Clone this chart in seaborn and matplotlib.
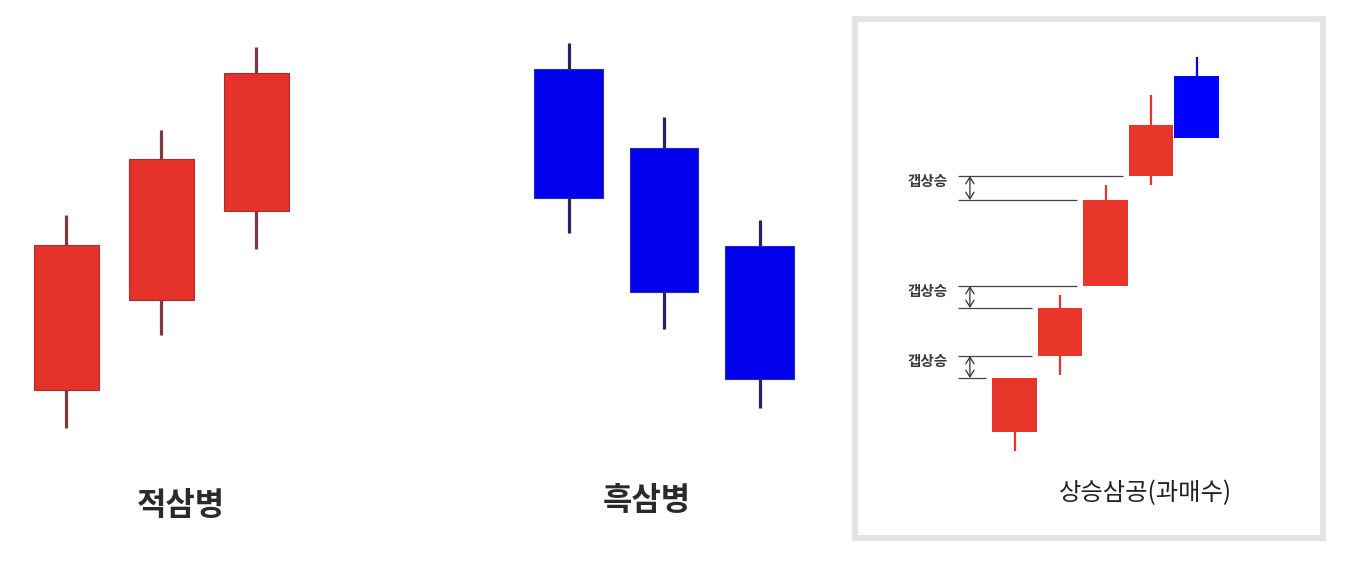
import numpy as np
import matplotlib
matplotlib.use('Agg')
import matplotlib.pyplot as plt
import seaborn as sns

sns.set_theme(style="white")
plt.rcParams['font.family'] = ['Noto Sans CJK KR', 'DejaVu Sans']

# --- data (price units) ---
# 적삼병: three rising red candles
red3_open = [172, 262, 351]
red3_close = [317, 403, 489]
red3_high = [347, 432, 515]
red3_low = [134, 227, 313]

# 흑삼병: three falling blue candles
blue3_open = [493, 414, 316]
blue3_close = [364, 270, 183]
blue3_high = [519, 445, 342]
blue3_low = [329, 233, 154]

# 상승삼공: four gap-up red candles + one blue
gap_open = [130, 206, 276, 386, 486]
gap_close = [184, 254, 362, 437, 424]
gap_high = [184, 267, 377, 467, 505]
gap_low = [111, 187, 276, 377, 424]
gap_colors = ['#e8362a', '#e8362a', '#e8362a', '#e8362a', '#0000ff']

labels = ['적삼병', '흑삼병', '상승삼공(과매수)']
gap_label = '갭상승'

W, H = 1354, 562
fig = plt.figure(figsize=(W / 100, H / 100), dpi=100)
fig.patch.set_facecolor('white')


def make_axes(x0, x1, y0, y1, center0, spacing):
    ax = fig.add_axes([x0 / W, 1 - y1 / H, (x1 - x0) / W, (y1 - y0) / H])
    ax.set_xlim((x0 - center0) / spacing, (x1 - center0) / spacing)
    ax.set_ylim(H - y1, H - y0)
    ax.set_xticks([])
    ax.set_yticks([])
    ax.set_facecolor('none')
    return ax


def candles(ax, o, c, hi, lo, body, edge, wick, width, wick_lw, edge_lw):
    x = np.arange(len(o))
    o = np.array(o)
    c = np.array(c)
    ax.vlines(x, lo, hi, color=wick, lw=wick_lw, zorder=1)
    ax.bar(x, np.abs(c - o), bottom=np.minimum(o, c), width=width,
           color=body, edgecolor=edge, linewidth=edge_lw, zorder=2)
    return x


# left panel
ax1 = make_axes(0, 330, 0, H, 66.5, 95)
candles(ax1, red3_open, red3_close, red3_high, red3_low,
        '#e5322a', '#a23030', '#7a3a3e', 0.69, 2.3, 0.8)
ax1.text(1.2, 56, labels[0], ha='center', va='center', fontsize=23,
         fontweight='bold', color='#2a2a2a')
sns.despine(ax=ax1, left=True, bottom=True)

# middle panel
ax2 = make_axes(500, 830, 0, H, 568.5, 95.5)
candles(ax2, blue3_open, blue3_close, blue3_high, blue3_low,
        '#0000ee', '#2a2ab0', '#25255e', 0.72, 2.3, 0.8)
ax2.text(0.82, 61, labels[1], ha='center', va='center', fontsize=23,
         fontweight='bold', color='#2a2a2a')
sns.despine(ax=ax2, left=True, bottom=True)

# right panel (boxed)
ax3 = make_axes(854.5, 1323, 18.5, 538, 1014.5, 45.5)
for s in ax3.spines.values():
    s.set_visible(True)
    s.set_color('#e4e4e4')
    s.set_linewidth(4.4)
ax3.set_facecolor('white')
w3 = 0.97
for i in range(len(gap_open)):
    ax3.vlines(i, gap_low[i], gap_high[i], color=gap_colors[i], lw=1.6, zorder=1)
    ax3.bar(i, abs(gap_close[i] - gap_open[i]), bottom=min(gap_open[i], gap_close[i]),
            width=w3, color=gap_colors[i], linewidth=0, zorder=2)

line_start = -1.24
pad = 0.14
for i in range(3):
    lower = max(gap_open[i], gap_close[i])
    upper = min(gap_open[i + 1], gap_close[i + 1])
    ax3.hlines(upper, line_start, (i + 1) - w3 / 2 - pad, color='#444444', lw=0.9)
    ax3.hlines(lower, line_start, i - w3 / 2 - pad, color='#444444', lw=0.9)
    ax3.annotate('', xy=(-0.98, lower), xytext=(-0.98, upper),
                 arrowprops=dict(arrowstyle='<->,head_length=0.4,head_width=0.25',
                                 color='#333333', lw=0.9, shrinkA=0, shrinkB=0))
    ax3.text(-1.9, upper - 5, gap_label, ha='center', va='center',
             fontsize=10.5, fontweight='bold', color='#3a3a3a')

ax3.text(2.87, 69, labels[2], ha='center', va='center', fontsize=17.5,
         color='#222222')

fig.savefig('out.png', dpi=100, facecolor='white')
